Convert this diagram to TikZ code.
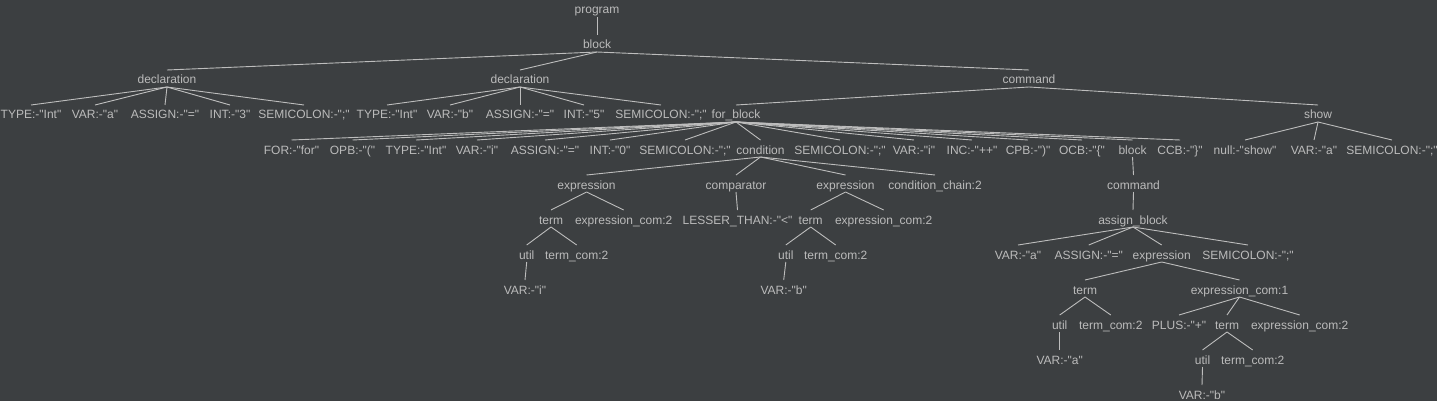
\documentclass[tikz,border=0pt]{standalone}
\usepackage{fontspec}
\setmainfont{Liberation Sans}[Ligatures=TeXOff]
\definecolor{bgc}{HTML}{3C3F41}
\definecolor{txt}{HTML}{BBBBBB}
\definecolor{lnc}{HTML}{BDBDBD}
\begin{document}
\begin{tikzpicture}[x=1pt,y=-1pt,
  lbl/.style={anchor=base,inner sep=0pt,text=txt,font=\fontsize{12}{14}\selectfont},
  edge/.style={draw=lnc,line width=0.9pt}]
\fill[bgc] (0,0) rectangle (1437,401);
\useasboundingbox (0,0) rectangle (1437,401);
% level 0
\node[lbl] (prog) at (597,14) {program};
% level 1
\node[lbl] (blk) at (597,49) {block};
% level 2
\node[lbl] (d1) at (167,84) {declaration};
\node[lbl] (d2) at (520,84) {declaration};
\node[lbl] (cmd) at (1029,84) {command};
% level 3
\node[lbl] (t1) at (31,119) {TYPE:-"Int"};
\node[lbl] (v1) at (95,119) {VAR:-"a"};
\node[lbl] (a1) at (165,119) {ASSIGN:-"="};
\node[lbl] (i1) at (230,119) {INT:-"3"};
\node[lbl] (s1) at (304,119) {SEMICOLON:-";"};
\node[lbl] (t2) at (387,119) {TYPE:-"Int"};
\node[lbl] (v2) at (450,119) {VAR:-"b"};
\node[lbl] (a2) at (520,119) {ASSIGN:-"="};
\node[lbl] (i2) at (584,119) {INT:-"5"};
\node[lbl] (s2) at (661,119) {SEMICOLON:-";"};
\node[lbl] (fb) at (736,119) {for\_block};
\node[lbl] (show) at (1318,119) {show};
% level 4
\node[lbl] (for) at (291.5,154) {FOR:-"for"};
\node[lbl] (opb) at (352.5,154) {OPB:-"("};
\node[lbl] (t3) at (416,154) {TYPE:-"Int"};
\node[lbl] (v3) at (477,154) {VAR:-"i"};
\node[lbl] (a3) at (545,154) {ASSIGN:-"="};
\node[lbl] (i3) at (610,154) {INT:-"0"};
\node[lbl] (s3) at (685,154) {SEMICOLON:-";"};
\node[lbl] (cond) at (760.5,154) {condition};
\node[lbl] (s4) at (840,154) {SEMICOLON:-";"};
\node[lbl] (v4) at (914,154) {VAR:-"i"};
\node[lbl] (inc) at (972,154) {INC:-"++"};
\node[lbl] (cpb) at (1028,154) {CPB:-")"};
\node[lbl] (ocb) at (1082,154) {OCB:-"\{"};
\node[lbl] (blk2) at (1132.5,154) {block};
\node[lbl] (ccb) at (1180,154) {CCB:-"\}"};
\node[lbl] (nul) at (1245,154) {null:-"show"};
\node[lbl] (v5) at (1314,154) {VAR:-"a"};
\node[lbl] (s5) at (1392,154) {SEMICOLON:-";"};
% level 5
\node[lbl] (e1) at (586.5,189) {expression};
\node[lbl] (comp) at (736,189) {comparator};
\node[lbl] (e2) at (845.5,189) {expression};
\node[lbl] (cc) at (935,189) {condition\_chain:2};
\node[lbl] (cmd2) at (1133.5,189) {command};
% level 6
\node[lbl] (tm1) at (551,224) {term};
\node[lbl] (ec1) at (623.7,224) {expression\_com:2};
\node[lbl] (lt) at (737.5,224) {LESSER\_THAN:-"<"};
\node[lbl] (tm2) at (810.7,224) {term};
\node[lbl] (ec2) at (883.7,224) {expression\_com:2};
\node[lbl] (ab) at (1133,224) {assign\_block};
% level 7
\node[lbl] (u1) at (526.7,259) {util};
\node[lbl] (tc1) at (576.7,259) {term\_com:2};
\node[lbl] (u2) at (785.8,259) {util};
\node[lbl] (tc2) at (835.7,259) {term\_com:2};
\node[lbl] (v6) at (1018,259) {VAR:-"a"};
\node[lbl] (a4) at (1088.7,259) {ASSIGN:-"="};
\node[lbl] (e3) at (1161.7,259) {expression};
\node[lbl] (s6) at (1248,259) {SEMICOLON:-";"};
% level 8
\node[lbl] (v7) at (525,294) {VAR:-"i"};
\node[lbl] (v8) at (783.7,294) {VAR:-"b"};
\node[lbl] (tm3) at (1085,294) {term};
\node[lbl] (ec3) at (1239.5,294) {expression\_com:1};
% level 9
\node[lbl] (u3) at (1059.7,329) {util};
\node[lbl] (tc3) at (1110.8,329) {term\_com:2};
\node[lbl] (plus) at (1179,329) {PLUS:-"+"};
\node[lbl] (tm4) at (1227,329) {term};
\node[lbl] (ec4) at (1299.7,329) {expression\_com:2};
% level 10
\node[lbl] (v9) at (1059.7,364) {VAR:-"a"};
\node[lbl] (u4) at (1202.5,364) {util};
\node[lbl] (tc4) at (1252.7,364) {term\_com:2};
% level 11
\node[lbl] (v10) at (1202,399) {VAR:-"b"};
% edges
\foreach \p/\c in {prog/blk, blk/d1, blk/d2, blk/cmd,
  d1/t1, d1/v1, d1/a1, d1/i1, d1/s1,
  d2/t2, d2/v2, d2/a2, d2/i2, d2/s2,
  cmd/fb, cmd/show,
  fb/for, fb/opb, fb/t3, fb/v3, fb/a3, fb/i3, fb/s3, fb/cond, fb/s4, fb/v4, fb/inc, fb/cpb, fb/ocb, fb/blk2, fb/ccb,
  show/nul, show/v5, show/s5,
  cond/e1, cond/comp, cond/e2, cond/cc,
  blk2/cmd2,
  e1/tm1, e1/ec1, comp/lt, e2/tm2, e2/ec2,
  cmd2/ab,
  tm1/u1, tm1/tc1, tm2/u2, tm2/tc2,
  ab/v6, ab/a4, ab/e3, ab/s6,
  u1/v7, u2/v8,
  e3/tm3, e3/ec3,
  tm3/u3, tm3/tc3,
  ec3/plus, ec3/tm4, ec3/ec4,
  u3/v9, tm4/u4, tm4/tc4, u4/v10}
  \draw[edge] ([yshift=-3pt]\p.base) -- ([yshift=14pt]\c.base);
\end{tikzpicture}
\end{document}
